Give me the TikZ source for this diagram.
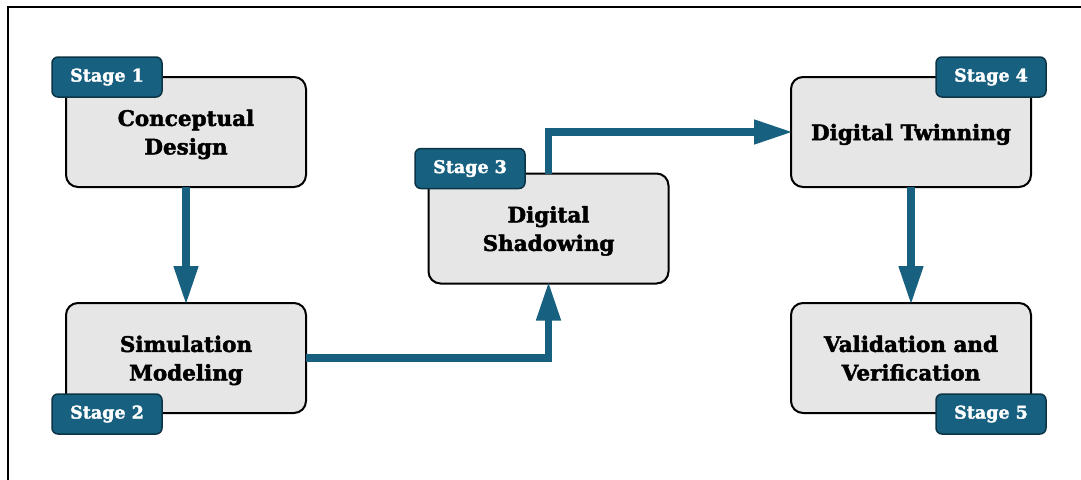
\documentclass[tikz,border=0pt]{standalone}
\usepackage{fontspec}
\setmainfont{DejaVu Serif}
\newfontfamily\heavyfont{DejaVu Serif}[BoldFeatures={FakeBold=2}]
\usetikzlibrary{arrows.meta}
\definecolor{teal}{HTML}{17607F}
\definecolor{tealdark}{HTML}{0C3445}
\definecolor{boxgray}{HTML}{E6E6E6}
% centred lines, set slightly below the middle of the box
\newsavebox{\linesbox}
\newcommand{\boxlines}[1]{\sbox{\linesbox}{\begin{tabular}{@{}c@{}}#1\end{tabular}}%
  \raisebox{-2.5pt}[\ht\linesbox][\dp\linesbox]{\usebox{\linesbox}}}
\tikzset{
  stagebox/.style={draw=black, line width=2pt, fill=boxgray, rounded corners=12pt,
    minimum width=240pt, minimum height=110pt, align=center, inner sep=0pt,
    outer sep=0pt, font=\fontsize{21.5}{28.5}\selectfont\heavyfont\bfseries},
  tagbox/.style={draw=tealdark, line width=1.5pt, fill=teal, rounded corners=6pt,
    minimum width=110pt, minimum height=40pt, inner sep=0pt, text=white,
    font=\fontsize{17.5}{20}\selectfont\heavyfont\bfseries},
  flow/.style={draw=teal, line width=7.5pt, shorten >=-2pt,
    -{Triangle[length=39pt,width=23pt]}},
}
\begin{document}
\begin{tikzpicture}[x=1pt,y=-1pt]
\useasboundingbox (0,0) rectangle (1081,479);
\clip (0,0) rectangle (1081,479);
% outer frame
\draw[line width=2pt] (8,500) -- (8,7) -- (1100,7);

% stage boxes
\node[stagebox] (b1) at (186,132)     {\boxlines{Conceptual\\Design}};
\node[stagebox] (b2) at (186,358)     {\boxlines{Simulation\\Modeling}};
\node[stagebox] (b3) at (548.5,228.5) {\boxlines{Digital\\Shadowing}};
\node[stagebox] (b4) at (911,132)     {\boxlines{Digital Twinning}};
\node[stagebox] (b5) at (911,358)     {\boxlines{Validation and\\Verification}};

% connectors
\draw[flow] (b1.south) -- (b2.north);
\draw[flow] (b2.east) -| (b3.south);
\draw[flow] (b3.north) |- (b4.west);
\draw[flow] (b4.south) -- (b5.north);

% stage tags
\node[tagbox] (t1) at (107,77)    {Stage 1};
\node[tagbox] (t2) at (107,414)   {Stage 2};
\node[tagbox] (t3) at (470,168.5) {Stage 3};
\node[tagbox] (t4) at (991,77)    {Stage 4};
\node[tagbox] (t5) at (991,414)   {Stage 5};
\end{tikzpicture}
\end{document}
